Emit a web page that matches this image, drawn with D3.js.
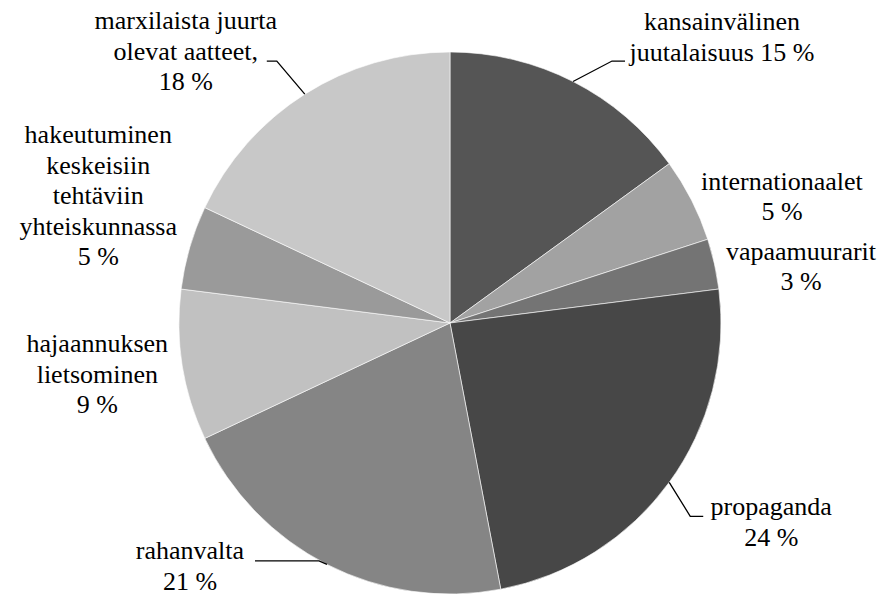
<!DOCTYPE html>
<html>
<head>
<meta charset="utf-8">
<script src="https://cdn.jsdelivr.net/npm/d3@7"></script>
<style>
  body { margin: 0; font-family: 'Liberation Serif', Tinos, 'Times New Roman', serif; }
  text { font-family: 'Liberation Serif', Tinos, 'Times New Roman', serif !important; }
</style>
</head>
<body>
<svg id="chart" width="888" height="594"></svg>
<script>
// data
var categories = ['kansainvälinen juutalaisuus', 'internationaalet', 'vapaamuurarit',
    'propaganda', 'rahanvalta', 'hajaannuksen lietsominen',
    'hakeutuminen keskeisiin tehtäviin yhteiskunnassa', 'marxilaista juurta olevat aatteet,'];
var values = [15, 5, 3, 24, 21, 9, 5, 18];
var labelLines = [
    ['kansainvälinen', 'juutalaisuus 15 %'],
    ['internationaalet', '5 %'],
    ['vapaamuurarit', '3 %'],
    ['propaganda', '24 %'],
    ['rahanvalta', '21 %'],
    ['hajaannuksen', 'lietsominen', '9 %'],
    ['hakeutuminen', 'keskeisiin', 'tehtäviin', 'yhteiskunnassa', '5 %'],
    ['marxilaista juurta', 'olevat aatteet,', '18 %']
];
var sliceColors = ['#555555', '#a2a2a2', '#747474', '#474747', '#858585', '#c1c1c1', '#9a9a9a', '#c8c8c8'];

// label layout, offsets from the slice's outer mid point
var labelOffset = [[149, -51.5], [90.5, -10], [86.5, -4], [102, 33], [-137, -5], [-85, -13], [-91.5, -104], [-119, -65]];
var leaders = [
    [[39, -20.5], [52, -20.5]],
    null,
    null,
    [[21, 34], [34, 34]],
    [[-8, -3.5], [-72, -3.5]],
    null,
    null,
    [[-28, -33], [-38, -33]]
];

var CX = 450, CY = 323, R = 271, LINE_H = 30.5;

var svg = d3.select('#chart');
var g = svg.append('g')
    .attr('transform', 'translate(' + CX + ',' + CY + ')');

var pie = d3.pie().sort(null).value(function(d) { return d; });
var arc = d3.arc().innerRadius(0).outerRadius(R);
var arcs = pie(values);

//slices
g.selectAll('path.slice')
    .data(arcs)
    .enter()
    .append('path')
    .attr('class', 'slice')
    .attr('fill', function(d, i) { return sliceColors[i]; })
    .attr('stroke', '#ffffff')
    .attr('stroke-width', 0.6)
    .attr('d', arc);

function edgePoint(d) {
    var a = (d.startAngle + d.endAngle) / 2;
    return [CX + R * Math.sin(a), CY - R * Math.cos(a)];
}

//leader lines
arcs.forEach(function(d, i) {
    if (!leaders[i]) return;
    var p = edgePoint(d);
    var pts = [p].concat(leaders[i].map(function(o) { return [p[0] + o[0], p[1] + o[1]]; }));
    svg.append('path')
        .attr('fill', 'none')
        .attr('stroke', '#000')
        .attr('stroke-width', 1.3)
        .attr('d', d3.line()(pts));
});

//labels, one text per line
arcs.forEach(function(d, i) {
    var p = edgePoint(d);
    var lx = p[0] + labelOffset[i][0];
    var ly = p[1] + labelOffset[i][1];
    labelLines[i].forEach(function(line, j) {
        svg.append('text')
            .attr('font-family', "Liberation Serif, Tinos, Times New Roman, serif")
            .attr('font-size', 26)
            .attr('text-anchor', 'middle')
            .attr('x', lx)
            .attr('y', ly + j * LINE_H)
            .text(line);
    });
});
</script>
</body>
</html>
